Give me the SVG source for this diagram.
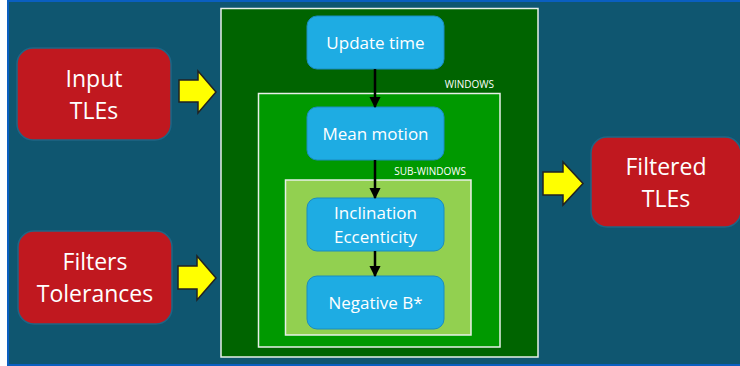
<svg xmlns="http://www.w3.org/2000/svg" width="740" height="366" viewBox="0 0 740 366">
<defs>
<style>
.red{fill:#c0181f;stroke:#1f6585;stroke-width:1.5}
.blue{fill:#1eace3;stroke:#1b8cbf;stroke-width:1}
.big{font-family:"Open Sans","Noto Sans",sans-serif;font-size:23px;fill:#ffffff;text-anchor:middle}
.mid{font-family:"Open Sans","Noto Sans",sans-serif;font-size:17px;fill:#ffffff;text-anchor:middle}
.small{font-family:"Open Sans","Noto Sans",sans-serif;font-size:10px;fill:#ffffff;text-anchor:end}
.yarrow{fill:#ffff00;stroke:#222222;stroke-width:1.5;stroke-linejoin:miter}
.conn{stroke:#000000;stroke-width:2.5;fill:none;marker-end:url(#ah)}
</style>
<marker id="ah" viewBox="0 0 10 10" refX="9" refY="5" markerWidth="4.5" markerHeight="4.5" orient="auto" markerUnits="strokeWidth">
<path d="M0,0 L10,5 L0,10 Z" fill="#000000"/>
</marker>
</defs>
<rect x="0" y="0" width="740" height="366" fill="#0f5670"/>
<rect x="0" y="0" width="7" height="366" fill="#ffffff"/>
<rect x="7" y="0" width="2" height="366" fill="#0a5fc0"/>
<rect x="7" y="0" width="733" height="2" fill="#0a5fc0"/>
<rect x="7" y="364" width="733" height="2" fill="#0a5fc0"/>

<g id="outer-window">
<rect x="221" y="8.5" width="317" height="348.5" fill="#006400" stroke="#e8f0e8" stroke-width="1.5"/>
</g>
<g id="windows">
<rect x="258.5" y="93.5" width="241.5" height="253.5" fill="#009900" stroke="#e8f0e8" stroke-width="1.5"/>
<text class="small" x="494" y="88">WINDOWS</text>
</g>
<g id="sub-windows">
<rect x="285.5" y="180" width="185.5" height="155" fill="#92d050" stroke="#e8f0e8" stroke-width="1.5"/>
<text class="small" x="466" y="175">SUB-WINDOWS</text>
</g>

<g id="input-tles">
<rect class="red" x="17" y="48" width="154" height="92" rx="16"/>
<text class="big" x="94" y="87">Input</text>
<text class="big" x="94" y="119">TLEs</text>
</g>
<g id="filters-tolerances">
<rect class="red" x="18" y="231" width="154" height="93" rx="16"/>
<text class="big" x="95" y="270">Filters</text>
<text class="big" x="95" y="302">Tolerances</text>
</g>
<g id="filtered-tles">
<rect class="red" x="591" y="137" width="150" height="90" rx="16"/>
<text class="big" x="666" y="175">Filtered</text>
<text class="big" x="666" y="207">TLEs</text>
</g>

<g id="update-time">
<rect class="blue" x="307" y="16" width="137" height="53" rx="10"/>
<text class="mid" x="375.5" y="49">Update time</text>
</g>
<g id="mean-motion">
<rect class="blue" x="307" y="107" width="137" height="53" rx="10"/>
<text class="mid" x="375.5" y="140">Mean motion</text>
</g>
<g id="inclination-eccentricity">
<rect class="blue" x="307" y="198" width="137" height="53" rx="10"/>
<text class="mid" x="375.5" y="219">Inclination</text>
<text class="mid" x="375.5" y="243">Eccenticity</text>
</g>
<g id="negative-b">
<rect class="blue" x="307" y="276" width="137" height="53" rx="10"/>
<text class="mid" x="375.5" y="309">Negative B*</text>
</g>

<g id="connectors">
<path class="yarrow" d="M179,80 L198,80 L198,71 L216,92 L198,113 L198,102 L179,102 Z"/>
<path class="yarrow" d="M178,266 L197,266 L197,256 L216,278 L197,300 L197,289 L178,289 Z"/>
<path class="yarrow" d="M543,172 L563,172 L563,162 L583,183.5 L563,205 L563,195 L543,195 Z"/>
<line class="conn" x1="375" y1="69" x2="375" y2="107"/>
<line class="conn" x1="375" y1="160" x2="375" y2="198"/>
<line class="conn" x1="375" y1="251" x2="375" y2="276"/>
</g>
</svg>
